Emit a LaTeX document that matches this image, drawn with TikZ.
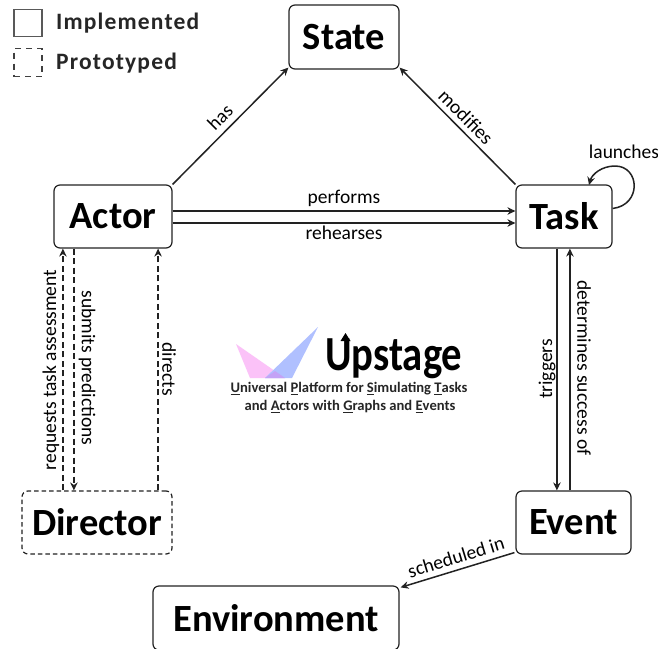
\documentclass[tikz,border=0pt]{standalone}
\usepackage{fontspec}
\usepackage{graphicx}
\setmainfont{Carlito}
\usetikzlibrary{calc,arrows.meta}
\definecolor{edge}{HTML}{222222}
\definecolor{logopink}{HTML}{FBC2F8}
\definecolor{logoblue}{HTML}{B0C0FF}
\definecolor{logomix}{HTML}{C4A2F6}
\tikzset{
  x=1pt,y=-1pt,
  box/.style={draw=edge,line width=1.2pt,rounded corners=6pt,fill=white,inner sep=0pt,font=\fontsize{38.5}{40}\selectfont\bfseries,text=black},
  dbox/.style={box,dash pattern=on 4.5pt off 3pt},
  conn/.style={draw=edge,line width=1.5pt,-{Stealth[length=8pt,width=7.5pt]}},
  dconn/.style={conn,dash pattern=on 6pt off 3.5pt},
  lab/.style={font=\fontsize{19.5}{21}\selectfont,text=black,inner sep=0pt},
  legend/.style={font=\fontsize{23.5}{25}\selectfont\bfseries\addfontfeature{LetterSpace=5},text=black!85,inner sep=0pt,anchor=west},
  subt/.style={font=\fontsize{14.6}{16}\selectfont\bfseries,text=black!85,inner sep=0pt}
}
\newcommand{\ulx}[1]{\underline{#1}}
\begin{document}
\begin{tikzpicture}
\useasboundingbox (0,0) rectangle (658,648);
\fill[white] (0,0) rectangle (658,648);
% boxes
\node[box,minimum width=110pt,minimum height=64pt] (state) at (344,37) {State};
\node[box,minimum width=118pt,minimum height=63pt] (actor) at (113,216.5) {Actor};
\node[box,minimum width=96pt,minimum height=63pt] (task) at (564,216.5) {Task};
\node[dbox,minimum width=150pt,minimum height=63pt] (director) at (97,522.5) {Director};
\node[box,minimum width=115pt,minimum height=63pt] (event) at (573.5,522.5) {Event};
\node[box,minimum width=246pt,minimum height=64pt] (env) at (276,618) {Environment};
% legend
\node[draw=black!65,line width=1.2pt,minimum width=28pt,minimum height=27pt,inner sep=0pt] (legA) at (28,23) {};
\node[draw=black!75,line width=1.2pt,dash pattern=on 6pt off 5pt,minimum width=28pt,minimum height=28pt,inner sep=0pt] (legB) at (28,62.5) {};
\node[legend] (legAt) at (56,23) {Implemented};
\node[legend] (legBt) at (56,63) {Prototyped};
% connectors
\draw[conn] (actor.north east) -- ($(state.south west)+(0,-2)$);
\node[lab,rotate=45] (hasL) at (220,117) {has};
\draw[conn] (task.north west) -- ($(state.south east)+(0,-2)$);
\node[lab,rotate=-45] (modL) at (466,117) {modifies};
\draw[conn] ($(actor.east)+(0,-5.5)$) -- ($(task.west)+(0,-5.5)$);
\draw[conn] ($(actor.east)+(0,6.5)$) -- ($(task.west)+(0,6.5)$);
\node[lab] (perfL) at (344,198) {performs};
\node[lab] (rehL) at (344,233) {rehearses};
\draw[conn] ($(task.east)+(0,-8)$) .. controls (642,205) and (640,166) .. (615,166) .. controls (602,166) and (592,174) .. (589,185);
\node[lab] (launL) at (624,152) {launches};
% dashed
\draw[dconn] ($(director.north west)+(41.5,0)$) -- ($(actor.south west)+(9.5,0)$);
\draw[dconn] ($(actor.south west)+(20.5,0)$) -- ($(director.north west)+(52.5,0)$);
\draw[dconn] ($(director.north east)+(-14.5,0)$) -- ($(actor.south east)+(-14.5,0)$);
\node[lab,rotate=90] (reqL) at (51,370) {requests task assessment};
\node[lab,rotate=-90] (subL) at (87,368) {submits predictions};
\node[lab,rotate=-90] (dirL) at (169,369) {directs};
% task event
\draw[conn] ($(task.south west)+(41.5,0)$) -- ($(event.north west)+(41.5,0)$);
\draw[conn] ($(event.north west)+(54.5,0)$) -- ($(task.south west)+(54.5,0)$);
\node[lab,rotate=90] (trigL) at (547,369) {triggers};
\node[lab,rotate=-90] (detL) at (584,368) {determines success of};
% scheduled
\draw[conn] ($(event.south west)+(-1,-2)$) -- ($(env.north east)+(1,2)$);
\node[lab,rotate=17] (schL) at (456,557) {scheduled in};
% logo
\fill[logopink] (236,344) -- (250,378) -- (285,378) -- cycle;
\fill[logoblue] (318,327) -- (292,378) -- (265,378) -- cycle;
\fill[logomix] (275,371) -- (285,378) -- (265,378) -- cycle;
\node[inner sep=0pt,anchor=base west,font=\fontsize{49}{50}\selectfont\bfseries,text=black] (logo) at (325,370) {\scalebox{0.83}[1]{Upstage}};
\fill[black] (345.5,333) -- (340.5,341) -- (350.5,341) -- cycle;
\node[subt] (sub1) at (349,389) {\ulx{U}niversal \ulx{P}latform for \ulx{S}imulating \ulx{T}asks};
\node[subt] (sub2) at (350,407) {and \ulx{A}ctors with \ulx{G}raphs and \ulx{E}vents};
\end{tikzpicture}
\end{document}
